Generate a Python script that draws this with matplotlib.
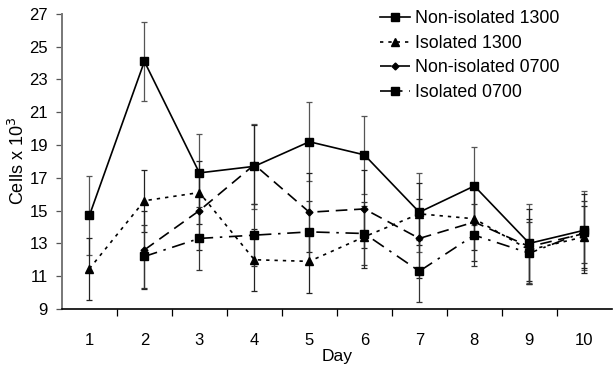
import numpy as np
import matplotlib
matplotlib.use('Agg')
import matplotlib.pyplot as plt

plt.rcParams['font.family'] = ['Liberation Sans', 'DejaVu Sans']

# dados
dias = np.arange(1, 11)
nan = np.nan

nao_iso_1300 = [14.7, 24.1, 17.3, 17.7, 19.2, 18.4, 14.9, 16.5, 13.0, 13.8]
nao_iso_1300_err = [2.4, 2.4, 2.4, 2.6, 2.4, 2.4, 2.4, 2.4, 2.4, 2.4]

iso_1300 = [11.45, 15.6, 16.1, 12.0, 11.9, 13.4, 14.8, 14.5, 12.6, 13.4]
iso_1300_err = [1.9, 1.9, 1.9, 1.9, 1.9, 1.9, 1.9, 1.9, 1.9, 1.9]

nao_iso_0700 = [nan, 12.6, 15.0, 17.8, 14.9, 15.1, 13.3, 14.3, 12.8, 13.6]
nao_iso_0700_err = [nan, 2.4, 2.4, 2.4, 2.4, 2.4, 2.4, 2.4, 2.3, 2.4]

iso_0700 = [nan, 12.2, 13.3, 13.5, 13.7, 13.6, 11.3, 13.5, 12.4, 13.7]
iso_0700_err = [nan, 1.9, 1.9, 1.9, 1.9, 1.9, 1.9, 1.9, 1.9, 1.9]

rotulos = ['Non-isolated 1300', 'Isolated 1300', 'Non-isolated 0700', 'Isolated 0700']
yticks = np.arange(9, 28, 2)

fig = plt.figure(figsize=(6.13, 3.66), dpi=100)
ax = fig.add_axes([0.101, 0.156, 0.897, 0.806])

series = [
    (nao_iso_1300, nao_iso_1300_err, '-', 's', 6, '#555555'),
    (iso_1300, iso_1300_err, (0, (2, 3)), '^', 5.5, '#222222'),
    (nao_iso_0700, nao_iso_0700_err, (0, (7, 4)), 'D', 3.5, '#222222'),
    (iso_0700, iso_0700_err, (0, (8, 4, 1.5, 4)), 's', 6, '#333333'),
]

for (y, e, ls, mk, ms, ec), lab in zip(series, rotulos):
    ax.errorbar(dias, y, yerr=e, fmt='none', ecolor=ec, elinewidth=0.9,
                capsize=2.5, capthick=0.9, zorder=2)
    ax.plot(dias, y, linestyle=ls, color='black', lw=1.2, marker=mk,
            markersize=ms, markerfacecolor='black', markeredgecolor='black',
            label=lab, zorder=3)

ax.set_xlim(0.5, 10.5)
ax.set_ylim(9, 27)
ax.set_yticks(yticks)
ax.set_xticks(dias)
ax.set_xticks(np.arange(1.5, 10.5, 1), minor=True)
ax.tick_params(axis='x', which='major', length=0, pad=17, labelsize=12)
ax.tick_params(axis='x', which='minor', length=5, width=0.9, direction='out')
ax.tick_params(axis='y', length=4, width=0.9, pad=6, labelsize=12, color='#555555')

for s in ['top', 'right']:
    ax.spines[s].set_visible(False)
ax.spines['left'].set_color('#777777')
ax.spines['left'].set_linewidth(1.4)
ax.spines['bottom'].set_linewidth(1.2)

ax.set_xlabel('Day', fontsize=12.5, labelpad=1)
ax.set_ylabel('Cells x 10$^3$', fontsize=13, labelpad=1)

ax.legend(loc='upper left', bbox_to_anchor=(0.578, 1.012), frameon=False,
          fontsize=12.8, handlelength=1.7, handletextpad=0.3, labelspacing=0.42,
          borderaxespad=0, borderpad=0)

fig.savefig('out.png', dpi=100)
